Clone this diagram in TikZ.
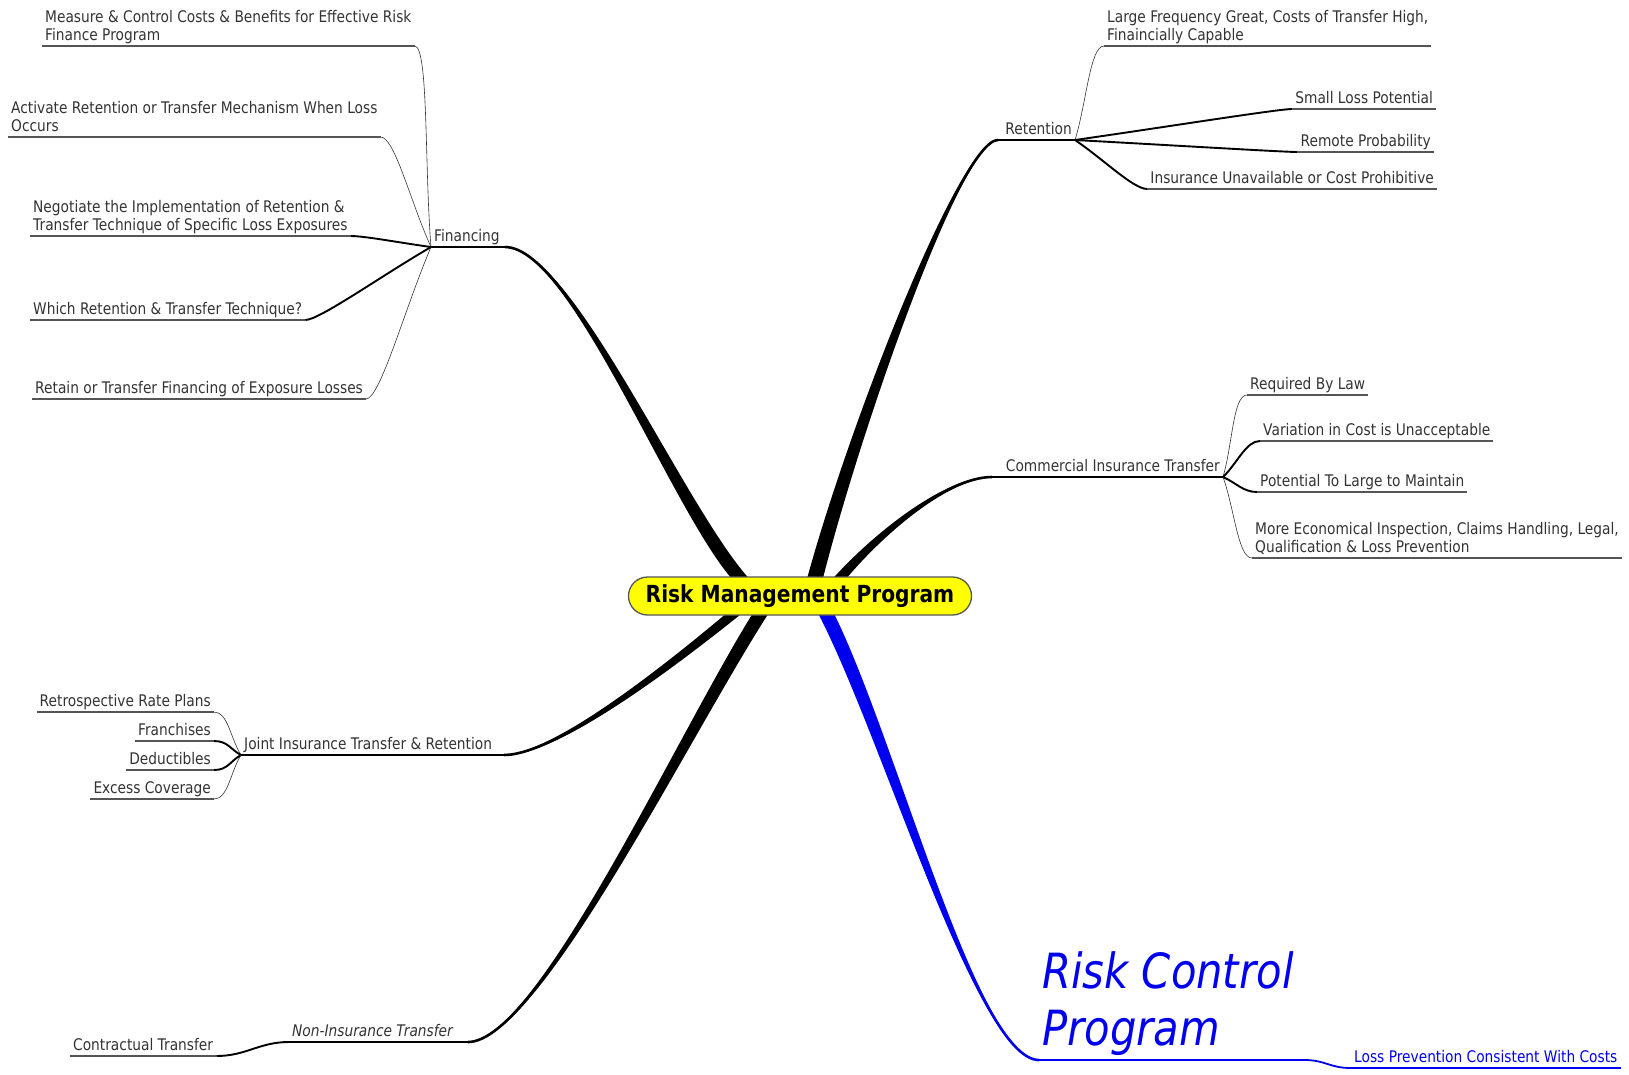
\documentclass[tikz,border=0pt]{standalone}
\usepackage{fontspec}
\setmainfont{DejaVu Sans}[FakeStretch=0.86]
\usepackage{tikz}
\usetikzlibrary{calc,positioning}
\definecolor{leafgray}{HTML}{333333}
\definecolor{linegray}{HTML}{555555}
\definecolor{mapblue}{HTML}{0000EE}
\definecolor{hubyellow}{HTML}{FFFF00}
\pgfdeclarelayer{background}
\pgfsetlayers{background,main}

\tikzset{
	leaf/.style={font=\fontsize{16}{18.7}\selectfont, text=leafgray, align=left,
		inner xsep=3pt, inner ysep=2.5pt, text depth=2.5pt},
	core/.style={draw=linegray, line width=1.3pt, fill=hubyellow, rounded corners=19pt,
		minimum width=343pt, minimum height=38pt, inner sep=0pt,
		font=\bfseries\fontsize{23.5}{27}\selectfont},
	bigblue/.style={font=\itshape\fontsize{48.5}{57}\selectfont, text=mapblue, align=left, inner sep=2pt},
	stem/.style={line width=2.6pt},
	bough/.style={line width=1.9pt, black},
	twig/.style={line width=0.6pt, leafgray},
	uline/.style={line width=1.4pt, linegray}
}

% thick tapering limb: [colour] {thick end}{control 1}{control 2}{thin end}{half width}{bend offset}
\newcommand{\limb}[7][black]{%
	\fill[#1] ($(#2)-(#6,0)$) .. controls ($(#3)-(#6*0.85,0)$) and ($(#4)+(0,#7)$) .. (#5)
		.. controls ($(#4)-(0,#7)$) and ($(#3)+(#6*0.85,0)$) .. ($(#2)+(#6,0)$) -- cycle;
	\draw[#1,stem] (#2) .. controls (#3) and (#4) .. (#5);}
% child on the left / right of its hub, with its underline
\newcommand{\twigL}[3][twig]{%
	\draw[#1] (#2) .. controls ($(#2)!0.4!(#3.south east)$) and ($(#3.south east)+(14,0)$) .. (#3.south east);
	\draw[uline] (#3.south east) -- (#3.south west);}
\newcommand{\twigR}[3][twig]{%
	\draw[#1] (#2) .. controls ($(#2)!0.4!(#3.south west)$) and ($(#3.south west)+(-14,0)$) .. (#3.south west);
	\draw[uline] (#3.south west) -- (#3.south east);}

\begin{document}
\begin{tikzpicture}[x=1pt,y=-1pt]
	\useasboundingbox (0,0) rectangle (1629,1074);

	% centre
	\node[core] (rmp) at (800,596) {Risk Management Program};
	\coordinate (sfin) at ($(rmp.center)+(-48,-6)$);
	\coordinate (sret) at ($(rmp.center)+(12,-6)$);
	\coordinate (scit) at ($(rmp.center)+(30,-6)$);
	\coordinate (sjit) at ($(rmp.center)+(-52,6)$);
	\coordinate (snit) at ($(rmp.center)+(-32,6)$);
	\coordinate (srcp) at ($(rmp.center)+(20,6)$);

	% hubs and ends of the limbs
	\coordinate (hfin) at (431,247);   \coordinate (efin) at (505,247);
	\coordinate (hret) at (1075,140);  \coordinate (eret) at (998,140);
	\coordinate (hcit) at (1223,477);  \coordinate (ecit) at (992,477);
	\coordinate (hjit) at (241,755);   \coordinate (ejit) at (504,755);
	\coordinate (hnit) at (289,1042);  \coordinate (enit) at (468,1042);
	\coordinate (hrcp) at (1304,1060); \coordinate (ercp) at (1039,1060);

	\begin{pgfonlayer}{background}
		\limb{sfin}{690,540}{575,247}{efin}{9}{3}
		\limb{sret}{850,440}{960,140}{eret}{8}{-3}
		\limb{scit}{870,540}{945,477}{ecit}{7}{-2.5}
		\limb{sjit}{690,650}{560,755}{ejit}{8}{-3}
		\limb{snit}{690,720}{540,1042}{enit}{8}{-3}
		\limb[mapblue]{srcp}{885,720}{975,1060}{ercp}{8}{2}
		\draw[stem] (efin) -- (hfin);
		\draw[stem] (eret) -- (hret);
		\draw[stem] (ecit) -- (hcit);
		\draw[stem] (ejit) -- (hjit);
		\draw[stem] (enit) -- (hnit);
		\draw[stem,mapblue] (ercp) -- (hrcp);
	\end{pgfonlayer}

	% Financing
	\node[leaf, anchor=south west] (fin) at (hfin) {Financing};
	\node[leaf, anchor=south west] (f1) at (42,46) {Measure \& Control Costs \& Benefits for Effective Risk\\Finance Program};
	\node[leaf, anchor=south west] (f2) at (8,137) {Activate Retention or Transfer Mechanism When Loss\\Occurs};
	\node[leaf, anchor=south west] (f3) at (30,236) {Negotiate the Implementation of Retention \&\\Transfer Technique of Specific Loss Exposures};
	\node[leaf, anchor=south west] (f4) at (30,320) {Which Retention \& Transfer Technique?};
	\node[leaf, anchor=south west] (f5) at (32,399) {Retain or Transfer Financing of Exposure Losses};
	\twigL{hfin}{f1}
	\twigL{hfin}{f2}
	\twigL[bough]{hfin}{f3}
	\twigL[bough]{hfin}{f4}
	\twigL{hfin}{f5}

	% Retention
	\node[leaf, anchor=south east] (ret) at (hret) {Retention};
	\node[leaf, anchor=south west] (r1) at (1104,46) {Large Frequency Great, Costs of Transfer High,\\Finaincially Capable};
	\node[leaf, anchor=south east] (r2) at (1436,109) {Small Loss Potential};
	\node[leaf, anchor=south east] (r3) at (1434,152) {Remote Probability};
	\node[leaf, anchor=south east] (r4) at (1437,189) {Insurance Unavailable or Cost Prohibitive};
	\twigR{hret}{r1}
	\twigR[bough]{hret}{r2}
	\twigR[bough]{hret}{r3}
	\twigR[bough]{hret}{r4}

	% Commercial Insurance Transfer
	\node[leaf, anchor=south east] (cit) at (hcit) {Commercial Insurance Transfer};
	\node[leaf, anchor=south west] (c1) at (1247,395) {Required By Law};
	\node[leaf, anchor=south west] (c2) at (1260,441) {Variation in Cost is Unacceptable};
	\node[leaf, anchor=south west] (c3) at (1257,492) {Potential To Large to Maintain};
	\node[leaf, anchor=south west] (c4) at (1252,558) {More Economical Inspection, Claims Handling, Legal,\\Qualification \& Loss Prevention};
	\twigR{hcit}{c1}
	\twigR[bough]{hcit}{c2}
	\twigR[bough]{hcit}{c3}
	\twigR{hcit}{c4}

	% Joint Insurance Transfer & Retention
	\node[leaf, anchor=south west] (jit) at (hjit) {Joint Insurance Transfer \& Retention};
	\node[leaf, anchor=south east] (j1) at (214,712) {Retrospective Rate Plans};
	\node[leaf, anchor=south east] (j2) at (214,741) {Franchises};
	\node[leaf, anchor=south east] (j3) at (214,770) {Deductibles};
	\node[leaf, anchor=south east] (j4) at (214,799) {Excess Coverage};
	\twigL{hjit}{j1}
	\twigL[bough]{hjit}{j2}
	\twigL[bough]{hjit}{j3}
	\twigL{hjit}{j4}

	% Non-Insurance Transfer
	\node[leaf, anchor=south west, font=\itshape\fontsize{16}{18.7}\selectfont] (nit) at (hnit) {Non-Insurance Transfer};
	\node[leaf, anchor=south west] (n1) at (70,1056) {Contractual Transfer};
	\draw[bough] (hnit) .. controls +(-30,0) and +(30,0) .. (n1.south east);
	\draw[uline] (n1.south east) -- (n1.south west);

	% Risk Control Program
	\node[bigblue, anchor=south west] (rcp) at (1040,1058) {Risk Control\\Program};
	\node[leaf, anchor=south west, text=mapblue] (lp) at (1351,1068) {Loss Prevention Consistent With Costs};
	\draw[mapblue, line width=1.8pt] (hrcp) .. controls +(22,0) and +(-22,0) .. (lp.south west);
	\draw[mapblue, line width=1.4pt] (lp.south west) -- (lp.south east);
\end{tikzpicture}
\end{document}
